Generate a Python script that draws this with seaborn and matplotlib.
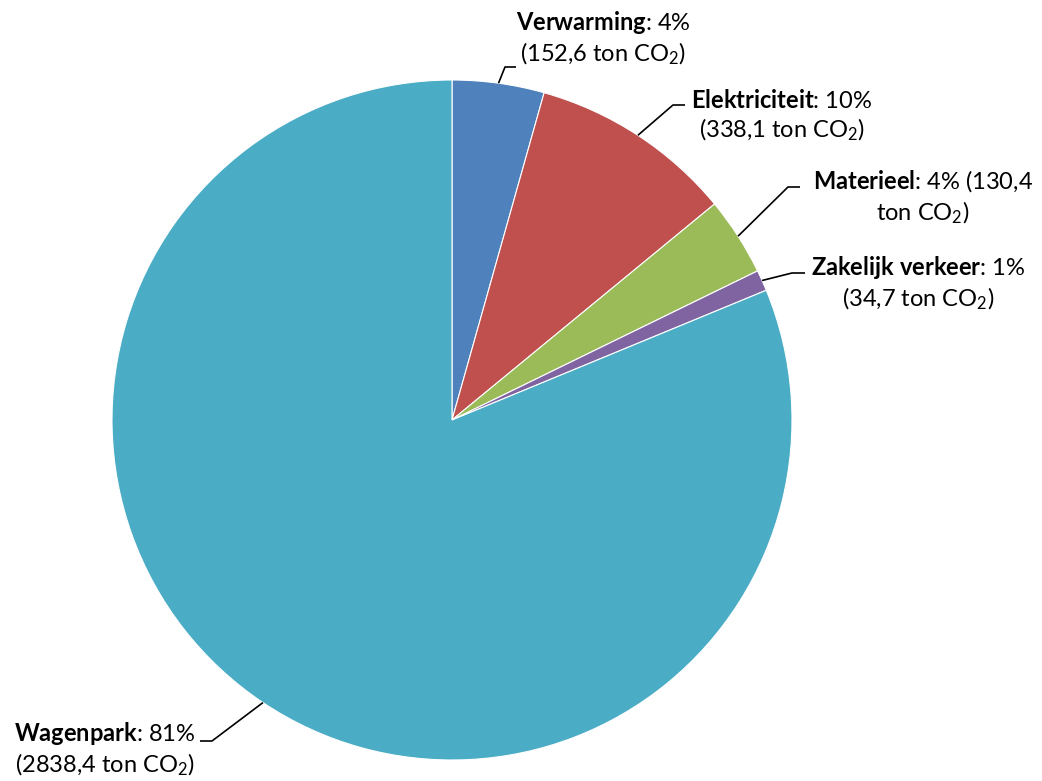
import numpy as np
import matplotlib
matplotlib.use("Agg")
import matplotlib.pyplot as plt
import seaborn as sns

# emissions per source (ton CO2)
categories = ["Verwarming", "Elektriciteit", "Materieel", "Zakelijk verkeer", "Wagenpark"]
values = [152.6, 338.1, 130.4, 34.7, 2838.4]
value_labels = ["152,6", "338,1", "130,4", "34,7", "2838,4"]
pct_labels = ["4%", "10%", "4%", "1%", "81%"]
colors = ["#4F81BD", "#C0504D", "#9BBB59", "#8064A2", "#4BACC6"]

sns.set_theme(style="white")
plt.rcParams["font.family"] = ["Lato", "DejaVu Sans"]
plt.rcParams["mathtext.fontset"] = "custom"
plt.rcParams["mathtext.rm"] = "Lato"
plt.rcParams["mathtext.bf"] = "Lato:bold"
plt.rcParams["mathtext.it"] = "Lato:italic"

W, H = 1042, 781
fig = plt.figure(figsize=(W / 100, H / 100), dpi=100)
ax = fig.add_axes([0, 0, 1, 1])
ax.set_xlim(0, W)
ax.set_ylim(0, H)
ax.set_aspect("equal")
ax.axis("off")

cx, cy, r = 452, H - 420, 340
wedges, _ = ax.pie(values, colors=colors, startangle=90, counterclock=False,
                   center=(cx, cy), radius=r, frame=True,
                   wedgeprops=dict(edgecolor="white", linewidth=0.8))
ax.set_xlim(0, W)
ax.set_ylim(0, H)
ax.axis("off")

# label layout (image pixel coords): text centre, elbow, end of leader
layout = {
    "Verwarming": ((603, 38), (505, 67), (516, 67)),
    "Elektriciteit": ((782, 116), (673, 105), (685, 105)),
    "Materieel": ((923, 197), (788, 187), (800, 187)),
    "Zakelijk verkeer": ((918, 283), (792, 273), (805, 273)),
    "Wagenpark": ((105, 749), (212, 741), (200, 741)),
}

for w, cat, pct, val in zip(wedges, categories, pct_labels, value_labels):
    (tx, ty), (ex, ey), (fx, fy) = layout[cat]
    mid = np.deg2rad((w.theta1 + w.theta2) / 2)
    px, py = cx + r * np.cos(mid), cy + r * np.sin(mid)
    ax.plot([px, ex, fx], [py, H - ey, H - fy], color="black", lw=1.2,
            solid_capstyle="butt")
    bold = r"$\bf{" + cat.replace(" ", r"\ ") + "}$"
    if cat == "Materieel":
        txt = f"{bold}: {pct} ({val}\nton CO$_2$)"
    else:
        txt = f"{bold}: {pct}\n({val} ton CO$_2$)"
    ax.text(tx, H - ty, txt, ha="center", va="center", multialignment="center",
            fontsize=17, color="black", linespacing=1.25)

fig.savefig("out.png", dpi=100)
